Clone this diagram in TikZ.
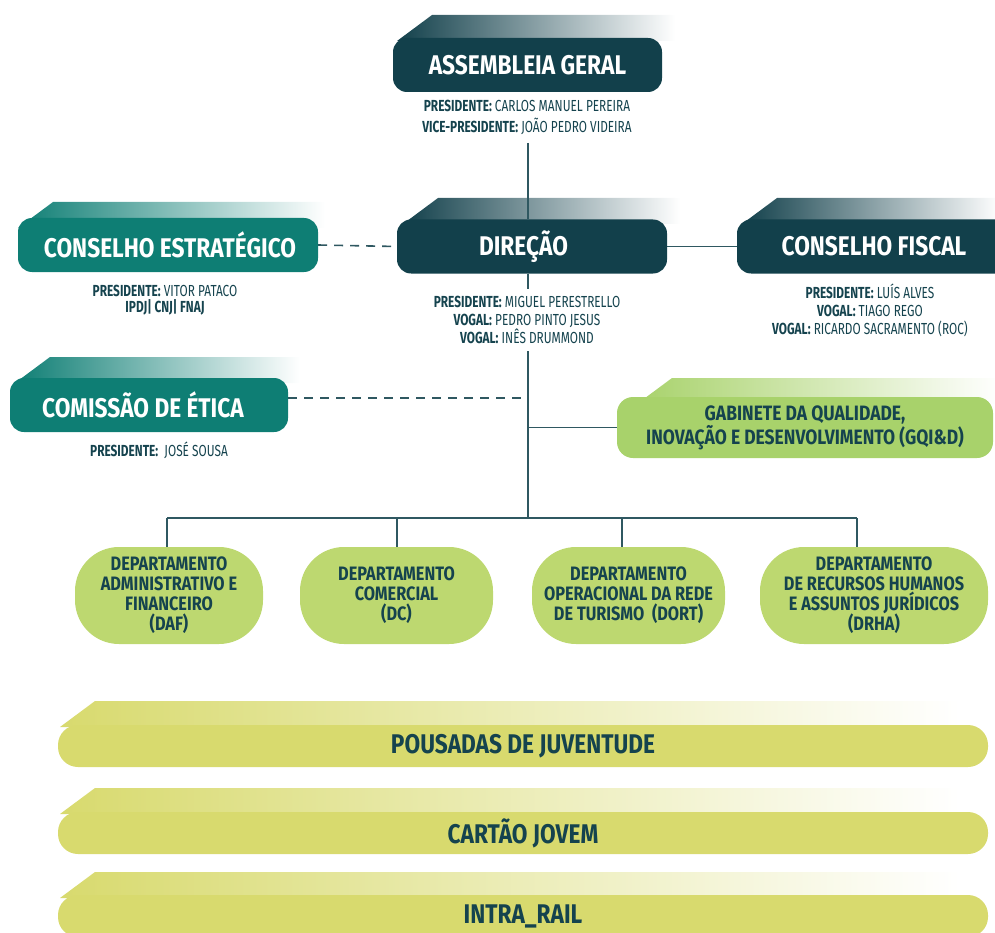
\documentclass[tikz,border=0pt]{standalone}
\usepackage{fontspec}
\setmainfont{Fira Sans}[FakeStretch=0.84]
\newfontfamily\subf{Fira Sans}[FakeStretch=0.74]
\usetikzlibrary{calc}
\definecolor{dteal}{HTML}{12404B}
\definecolor{mteal}{HTML}{0E7E74}
\definecolor{ggreen}{HTML}{A8D26B}
\definecolor{dgreen}{HTML}{BDD870}
\definecolor{bary}{HTML}{D8DA6E}
\definecolor{txt}{HTML}{15434E}
\definecolor{lnc}{HTML}{2F5861}
\pgfdeclarelayer{tabs}\pgfdeclarelayer{lines}
\pgfsetlayers{tabs,lines,main}
\newcommand\mytab[4]{%
 \begin{pgfonlayer}{tabs}
 \shade[left color=#1, right color=white] (#2-35,#3+26) -- (#2,#3) -- (#4,#3) -- (#4,#3+26) -- cycle;
 \end{pgfonlayer}}
\tikzset{
 titlebox/.style={rounded corners=14pt, minimum height=54pt, text=white, font=\bfseries\fontsize{27}{30}\selectfont, inner sep=0pt},
 subtxt/.style={text=txt, align=center, font=\subf\fontsize{16}{18}\selectfont, inner sep=2pt},
 gabbox/.style={fill=ggreen, rounded corners=16pt, minimum height=61pt, minimum width=376pt, text=txt, align=center, font=\bfseries\fontsize{20.8}{24}\selectfont, inner sep=0pt},
 dept/.style={fill=dgreen, rounded corners=44pt, minimum height=97pt, text=txt, align=center, font=\bfseries\fontsize{19.4}{20}\selectfont, inner sep=0pt},
 bar/.style={fill=bary, rounded corners=20pt, minimum width=930pt, minimum height=42pt, text=txt, font=\bfseries\fontsize{27}{30}\selectfont, inner sep=0pt},
 conn/.style={draw=lnc, line width=1.6pt},
 dconn/.style={conn, dash pattern=on 9pt off 7pt},
}
\begin{document}
\begin{tikzpicture}[x=1pt,y=-1pt]
\useasboundingbox (0,0) rectangle (995,933);
% tabs
\mytab{dteal}{432}{15}{675}
\mytab{mteal}{53}{202}{325}
\mytab{dteal}{438}{198}{680}
\mytab{dteal}{777}{198}{1000}
\mytab{mteal}{50}{357}{300}
\mytab{ggreen}{672}{378}{1000}
\mytab{bary}{95}{701}{960}
\mytab{bary}{95}{788}{960}
\mytab{bary}{95}{872}{960}
% main boxes
\node[titlebox, fill=dteal, minimum width=269pt] (ag) at (527.5,65) {ASSEMBLEIA GERAL};
\node[subtxt, font=\subf\fontsize{16}{21}\selectfont] (agsub) at (527,117) {{\bfseries PRESIDENTE:} CARLOS MANUEL PEREIRA\\{\bfseries VICE-PRESIDENTE:} JOÃO PEDRO VIDEIRA};
\node[titlebox, fill=mteal, minimum width=300pt] (ce) at (168,245) {\hspace*{4pt}CONSELHO ESTRATÉGICO};
\node[subtxt, font=\subf\fontsize{16}{16.5}\selectfont] (cesub) at (165,300) {{\bfseries PRESIDENTE:} VITOR PATACO\\{\bfseries IPDJ| CNJ| FNAJ}};
\node[titlebox, fill=dteal, minimum width=270pt] (dir) at (532,246.5) {\hspace*{-17pt}DIREÇÃO};
\node[subtxt, inner sep=7pt] (dirsub) at (527,320) {{\bfseries PRESIDENTE:} MIGUEL PERESTRELLO\\{\bfseries VOGAL:} PEDRO PINTO JESUS\\{\bfseries VOGAL:} INÊS DRUMMOND};
\node[titlebox, fill=dteal, minimum width=274pt] (cf) at (874,246.5) {CONSELHO FISCAL};
\node[subtxt] (cfsub) at (870,310) {{\bfseries PRESIDENTE:} LUÍS ALVES\\{\bfseries VOGAL:} TIAGO REGO\\{\bfseries VOGAL:} RICARDO SACRAMENTO (ROC)};
\node[titlebox, fill=mteal, minimum width=278pt] (com) at (149,405) {\hspace*{-12pt}COMISSÃO DE ÉTICA};
\node[subtxt] (comsub) at (159,450) {{\bfseries PRESIDENTE:}\ \ JOSÉ SOUSA};
\node[gabbox] (gab) at (805,427.5) {GABINETE DA QUALIDADE,\\INOVAÇÃO E DESENVOLVIMENTO (GQI\&D)};
% departments
\node[dept, minimum width=188pt] (daf) at (169,595.5) {DEPARTAMENTO\\ADMINISTRATIVO E\\FINANCEIRO\\(DAF)};
\node[dept, minimum width=193pt] (dc) at (396.5,595.5) {DEPARTAMENTO\\COMERCIAL\\(DC)};
\node[dept, minimum width=193pt] (dort) at (628.5,595.5) {DEPARTAMENTO\\OPERACIONAL DA REDE\\DE TURISMO\ \ (DORT)};
\node[dept, minimum width=228pt] (drha) at (874,595.5) {DEPARTAMENTO\\DE RECURSOS HUMANOS\\E ASSUNTOS JURÍDICOS\\(DRHA)};
% bars
\node[bar] (pj) at (523,746) {POUSADAS DE JUVENTUDE};
\node[bar] (cj) at (523,833) {CARTÃO JOVEM};
\node[bar] (ir) at (523,916) {INTRA\_RAIL};
% connector points
\coordinate (agl) at (528,143);
\coordinate (jcom) at (528,398);
\coordinate (jgab) at (528,427.5);
\coordinate (bus) at (528,518);
\coordinate (tdaf) at (167,518);
\coordinate (tdc) at (397,518);
\coordinate (tdort) at (622,518);
\coordinate (tdrha) at (857,518);
\begin{pgfonlayer}{lines}
\draw[conn] (agl) -- (agl |- dir.north);
\draw[conn] (bus |- dir.south) -- (bus |- dirsub.north);
\draw[conn] (bus |- dirsub.south) -- (bus);
\draw[dconn] (ce.east) -- (dir.west);
\draw[conn] (dir.east) -- (cf.west);
\draw[dconn] (com.east |- jcom) -- (jcom);
\draw[conn] (jgab) -- (gab.west);
\draw[conn] (tdaf) -- (tdrha);
\draw[conn] (tdaf) -- (tdaf |- daf.north);
\draw[conn] (tdc) -- (tdc |- dc.north);
\draw[conn] (tdort) -- (tdort |- dort.north);
\draw[conn] (tdrha) -- (tdrha |- drha.north);
\end{pgfonlayer}
\end{tikzpicture}
\end{document}
